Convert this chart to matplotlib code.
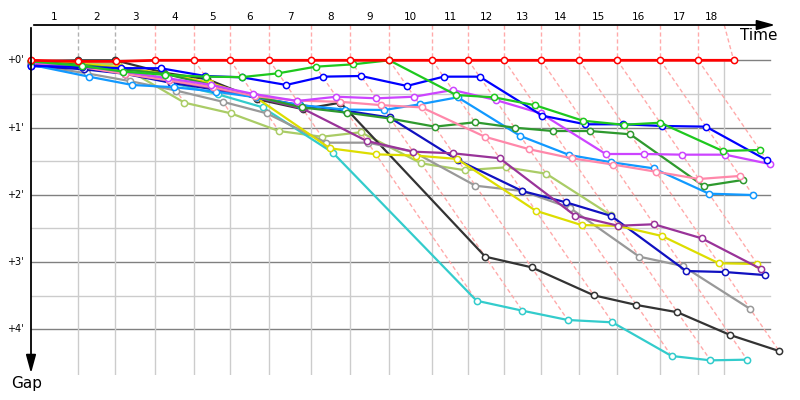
import matplotlib.pyplot as plt
import numpy as np

# leader's crossing time for each lap (s), lap 0 = start
lap_times = [0, 60.6, 109.4, 161.4, 212.0, 258.7, 309.4, 363.9, 414.5, 465.1,
             521.0, 567.7, 614.4, 662.5, 711.8, 761.1, 817.0, 866.3, 912.2]
time_limit = 900
# laps led by the black car (grey lap lines), red led the rest
leader_black_laps = [1, 2]

# gap to the leader (s) at each completed lap, starting at lap 0
gaps = {
    'red':        [0, 1, 1, 0, 0, 0, 0, 0, 0, 0, 0, 0, 0, 0, 0, 0, 0, 0, 0],
    'green':      [1, 5, 10, 13, 14.6, 15, 11.6, 5.7, 3.6, 0, 31, 33, 40.1, 53.9, 57.5, 55.7, 80.9, 80],
    'blue':       [5, 6, 7, 7.1, 14, 15.2, 22, 14.6, 14, 22.9, 14.6, 14.6, 49.4, 57.1, 57.1, 58.6, 59.2, 89.2],
    'magenta':    [2, 5, 10, 16, 22, 30, 36.3, 32.5, 33.9, 32.5, 26.5, 35.4, 47.3, 83.6, 83.6, 84.2, 84.2, 92.5],
    'pink':       [2, 6, 12, 18, 24, 32, 36, 37, 40, 42, 68.2, 79.4, 87.4, 93, 99.4, 105.9, 103.2],
    'darkgreen':  [1, 4, 8, 12, 22, 32, 42, 46.8, 52, 59.2, 55.3, 60.1, 63.1, 63.1, 66, 112.2, 106.8],
    'lightblue':  [4, 14.6, 22, 24, 28, 33, 40, 44, 44.3, 39.3, 33, 67.5, 84.5, 91, 96.4, 119, 120.2],
    'purple':     [3, 6, 12, 18, 25, 33, 43, 72, 81.5, 83, 87.4, 138.6, 147.6, 146.3, 158.8, 186],
    'yellow':     [1, 3, 6, 12, 20, 33, 78.5, 83.9, 85, 88, 134.2, 147, 147.7, 156.8, 181.1, 181.7],
    'navy':       [5, 8, 12, 20, 26, 33, 40, 45, 51, 89, 116.6, 126.7, 138.9, 188, 188.9, 191.6],
    'gray':       [4, 11.6, 18.5, 27, 37, 47.3, 73.5, 73.5, 81.5, 111.9, 116.6, 131.5, 175.2, 183.5, 221.9],
    'black':      [1, 0, 0, 11.1, 16.9, 34.7, 43.6, 37.8, 175.2, 184.7, 209.7, 218.3, 224.8, 245.1, 259.4],
    'cyan':       [3, 5.7, 9.5, 20.0, 30.3, 41.9, 82.4, 214.5, 223.4, 231.7, 233.8, 263.8, 267.7, 267.1],
    'olive':      [0.5, 2.7, 3.3, 37.8, 47.3, 63.1, 68.2, 64.2, 91.9, 98.1, 95.5, 101.2, 138],
}
colors = {
    'red': '#ff0000', 'green': '#1ec81e', 'blue': '#0000ff', 'magenta': '#cc44ff',
    'pink': '#ff88aa', 'darkgreen': '#2e992e', 'lightblue': '#1199ff', 'purple': '#993399',
    'yellow': '#dddd00', 'navy': '#1010c0', 'gray': '#999999', 'black': '#333333',
    'cyan': '#33cccc', 'olive': '#aacc66',
}
gap_ticks = [0, 60, 120, 180, 240]
gap_labels = ["+0'", "+1'", "+2'", "+3'", "+4'"]

# pixel scales of the original
px_per_s_x = 0.7703
px_per_s_y = 1.1208
top_gap = -35.3 / px_per_s_y
bottom_gap = 314.7 / px_per_s_y
right_t = 759 / px_per_s_x
grid_end = 739 / px_per_s_x

fig = plt.figure(figsize=(8, 4), dpi=100)
ax = fig.add_axes([31 / 800, 25 / 400, 759 / 800, 350 / 400])
ax.set_xlim(0, right_t)
ax.set_ylim(bottom_gap, top_gap)
ax.axis('off')

# horizontal grid
for g in [30, 90, 150, 210]:
    ax.plot([0, grid_end], [g, g], color='#cccccc', lw=1, zorder=1)
for g in gap_ticks:
    ax.plot([0, grid_end], [g, g], color='#808080', lw=1, zorder=1)

# vertical grid at lap boundaries
bounds = [0] + [min(t, time_limit) for t in lap_times[1:]]
for b in bounds[1:]:
    ax.plot([b, b], [0, bottom_gap], color='#cccccc', lw=1, zorder=1)

# lap lines: dashed from the time axis to the leader, then along equal-lap diagonal
for k in range(1, len(lap_times)):
    col = '#b0b0b0' if k in leader_black_laps else '#ffaaaa'
    ax.plot([bounds[k], lap_times[k]], [top_gap, 0], color=col, lw=1,
            ls=(0, (3, 2)), zorder=2, clip_on=False)
    m = max(v[k] for v in gaps.values() if len(v) > k)
    if m > 0:
        ax.plot([lap_times[k], lap_times[k] + m], [0, m], color=col, lw=1,
                ls=(0, (3, 2)), zorder=2)

# car traces
order = ['olive', 'cyan', 'black', 'gray', 'navy', 'yellow', 'purple', 'lightblue',
         'darkgreen', 'pink', 'magenta', 'blue', 'green', 'red']
for i, name in enumerate(order):
    g = np.array(gaps[name], dtype=float)
    x = np.array([0] + [lap_times[k] + g[k] for k in range(1, len(g))])
    c = colors[name]
    lw = 2.0 if name == 'red' else 1.6
    ax.plot(x, g, '-o', color=c, lw=lw, ms=4.5, mfc='white', mec=c, mew=1.1,
            zorder=3 + i, clip_on=False)

# axes with arrows
ax.annotate('', xy=(969.8, top_gap), xytext=(0, top_gap),
            arrowprops=dict(arrowstyle='-|>,head_length=1.1,head_width=0.3',
                            color='black', lw=1.3, mutation_scale=10),
            annotation_clip=False, zorder=30)
ax.annotate('', xy=(0, bottom_gap + 1), xytext=(0, top_gap),
            arrowprops=dict(arrowstyle='-|>,head_length=1.1,head_width=0.3',
                            color='black', lw=1.3, mutation_scale=10),
            annotation_clip=False, zorder=30)

# lap numbers
for k in range(1, len(bounds)):
    ax.text((bounds[k - 1] + bounds[k]) / 2, -38.6, str(k), ha='center',
            va='center', fontsize=7.5)
for g, lab in zip(gap_ticks, gap_labels):
    ax.text(-9.5, g, lab, ha='right', va='center', fontsize=7)

ax.text(968.5, -29, 'Time', ha='right', va='top', fontsize=11)
fig.text(11 / 800, 1 - 376 / 400, 'Gap', ha='left', va='top', fontsize=11)

fig.savefig('out.png', dpi=100)
